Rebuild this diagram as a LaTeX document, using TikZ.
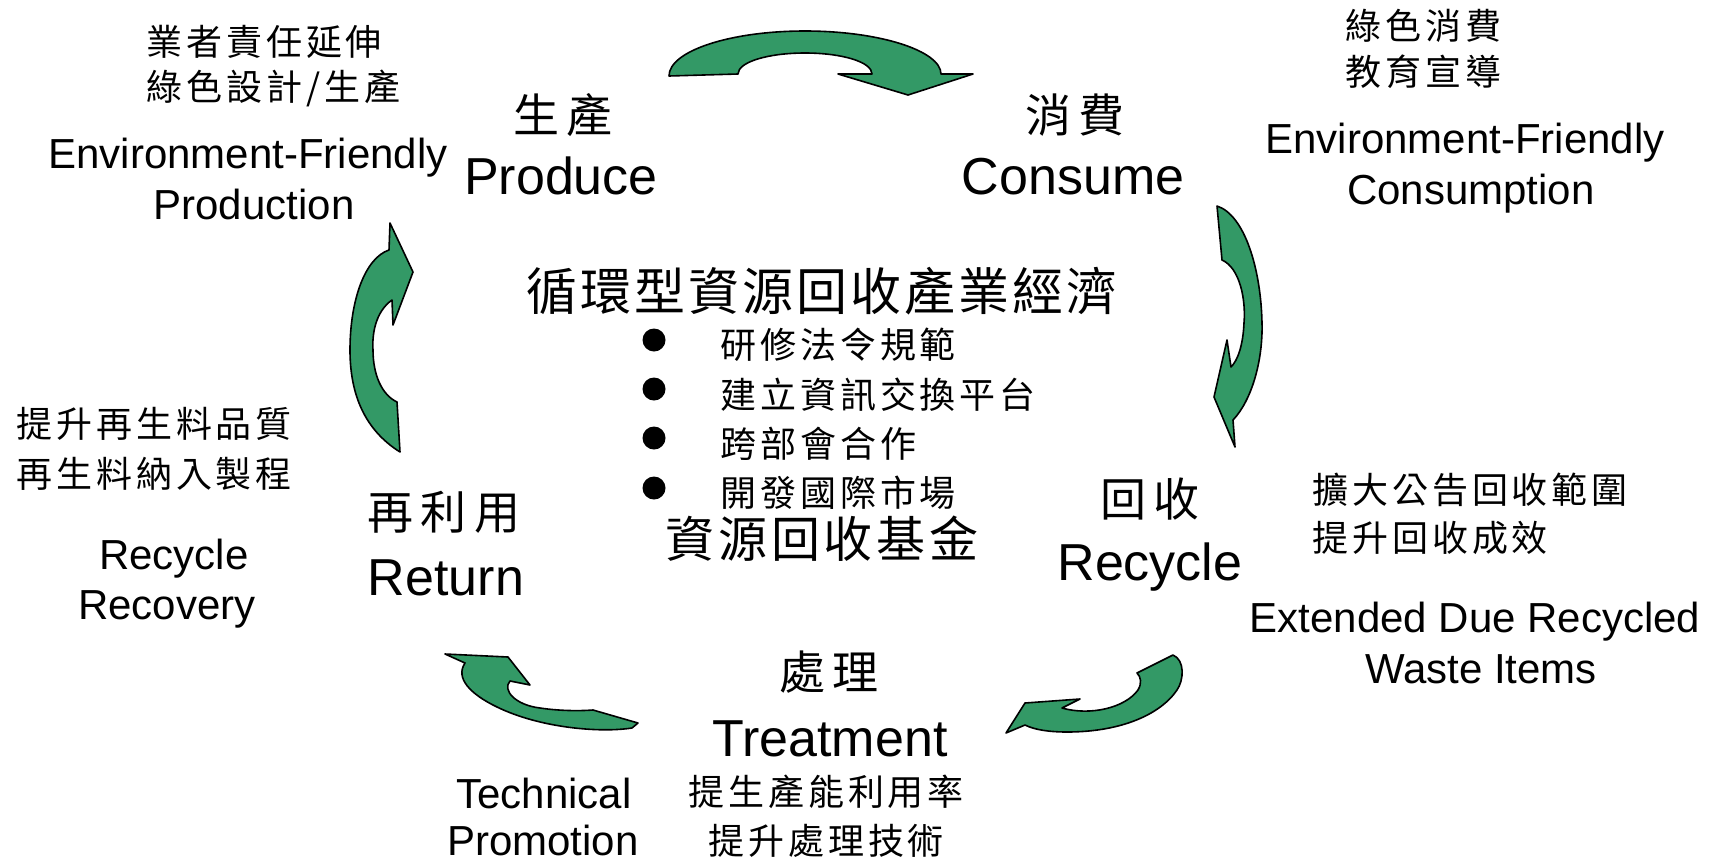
\documentclass[tikz,border=0pt]{standalone}
\usepackage{fontspec}
\setmainfont{Liberation Sans}
\newfontfamily\cjkm[LetterSpace=17]{Noto Sans CJK TC}
\newfontfamily\cjks[LetterSpace=11]{Noto Sans CJK TC}
\newfontfamily\cjkt[LetterSpace=6]{Noto Sans CJK TC}
\newfontfamily\cjkf[LetterSpace=8]{Noto Sans CJK TC}
\definecolor{arrowgreen}{RGB}{51,153,102}
\begin{document}
\begin{tikzpicture}[x=1pt,y=-1pt,
  en/.style={font=\fontsize{52}{60}\selectfont, anchor=base, inner sep=0pt},
  ens/.style={font=\fontsize{42}{50}\selectfont, anchor=base, inner sep=0pt},
  zhm/.style={font=\cjkm\fontsize{46}{54}\selectfont, anchor=west, inner sep=0pt},
  zhs/.style={font=\cjks\fontsize{36}{44}\selectfont, anchor=west, inner sep=0pt},
  zht/.style={font=\cjkt\fontsize{51}{60}\selectfont, anchor=west, inner sep=0pt},
  zhf/.style={font=\cjkf\fontsize{49}{58}\selectfont, anchor=west, inner sep=0pt},
  greenarrow/.style={fill=arrowgreen, draw=black, line width=1.6pt, line join=round},
  dotmark/.style={circle, fill=black, inner sep=0pt, minimum size=23pt}]
\useasboundingbox (0,0) rectangle (1719,863);

% ---------- curved arrows ----------
% top
\path[greenarrow] (669,76) .. controls (669,51) and (730,31) .. (805,31)
  .. controls (880,31) and (941,51) .. (941,74) -- (973,74) -- (908,95) -- (838,74) -- (872,74)
  .. controls (872,62) and (842,53) .. (805,53)
  .. controls (768,53) and (738,62) .. (738,74) -- cycle;
% right
\path[greenarrow] (1217,206) -- (1222,260) .. controls (1240,268) and (1246,300) .. (1244,323)
  .. controls (1243,345) and (1238,360) .. (1231,367) -- (1227,340) -- (1214,397) -- (1235,447) -- (1233,420)
  .. controls (1252,400) and (1263,360) .. (1262,323)
  .. controls (1261,270) and (1245,215) .. (1217,206) -- cycle;
% bottom right
\path[greenarrow] (1173,655) .. controls (1185,660) and (1184,680) .. (1177,690)
  .. controls (1160,715) and (1120,732) .. (1067,732)
  .. controls (1050,732) and (1035,730) .. (1025,725) -- (1006,733) -- (1025,703) -- (1080,699) -- (1062,708)
  .. controls (1090,716) and (1125,708) .. (1138,690)
  .. controls (1142,683) and (1141,677) .. (1137,673) -- cycle;
% bottom left
\path[greenarrow] (445,654) -- (508,657) -- (530,685) -- (510,681)
  .. controls (502,690) and (515,705) .. (540,708)
  .. controls (560,711) and (580,711) .. (593,710) -- (638,723) -- (632,728)
  .. controls (600,733) and (540,728) .. (497,707)
  .. controls (470,694) and (455,678) .. (465,663) -- cycle;
% left
\path[greenarrow] (390,223) -- (413,272) -- (393,325) -- (392,300)
  .. controls (375,312) and (372,335) .. (373,350)
  .. controls (373,375) and (382,395) .. (397,402) -- (400,452)
  .. controls (365,430) and (350,395) .. (350,350)
  .. controls (350,300) and (365,258) .. (389,250) -- cycle;

% ---------- top left ----------
\node[zhs] (tl1) at (146,42) {業者責任延伸};
\node[zhs] (tl2) at (146,88) {綠色設計/生產};
\node[ens] (tl3) at (248,168) {Environment-Friendly};
\node[ens] (tl4) at (254,219) {Production};

% ---------- produce ----------
\node[zhm] (pz) at (513,115) {生產};
\node[en] (pe) at (561,194) {Produce};

% ---------- consume ----------
\node[zhm] (cz) at (1025,115) {消費};
\node[en] (ce) at (1073,194) {Consume};
\node[zhs] (tr1) at (1345,26) {綠色消費};
\node[zhs] (tr2) at (1345,72) {教育宣導};
\node[ens] (tr3) at (1465,153) {Environment-Friendly};
\node[ens] (tr4) at (1471,204) {Consumption};

% ---------- centre ----------
\node[zht] (title) at (526,291) {循環型資源回收產業經濟};
\node[dotmark] (d1) at (654,340) {};
\node[dotmark] (d2) at (654,389) {};
\node[dotmark] (d3) at (654,438) {};
\node[dotmark] (d4) at (654,488) {};
\node[zhs] (b1) at (720,345) {研修法令規範};
\node[zhs] (b2) at (720,395) {建立資訊交換平台};
\node[zhs] (b3) at (720,444) {跨部會合作};
\node[zhs] (b4) at (720,493) {開發國際市場};
\node[zhf] (fund) at (665,539) {資源回收基金};

% ---------- recycle ----------
\node[zhm] (rz) at (1100,499) {回收};
\node[en] (re) at (1150,580) {Recycle};
\node[zhs] (rr1) at (1312,490) {擴大公告回收範圍};
\node[zhs] (rr2) at (1312,538) {提升回收成效};
\node[ens] (rr3) at (1475,632) {Extended Due Recycled};
\node[ens] (rr4) at (1481,683) {Waste Items};

% ---------- treatment ----------
\node[zhm] (tz) at (779,672) {處理};
\node[en] (te) at (830,756) {Treatment};
\node[zhs] (tt1) at (688,792) {提生產能利用率};
\node[zhs] (tt2) at (708,841) {提升處理技術};
\node[ens] (tp1) at (544,808) {Technical};
\node[ens] (tp2) at (543,855) {Promotion};

% ---------- return ----------
\node[zhm] (uz) at (367,512) {再利用};
\node[en] (ue) at (446,595) {Return};
\node[zhs] (ul1) at (16,424) {提升再生料品質};
\node[zhs] (ul2) at (16,474) {再生料納入製程};
\node[ens] (ul3) at (174,569) {Recycle};
\node[ens] (ul4) at (167,619) {Recovery};
\end{tikzpicture}
\end{document}
